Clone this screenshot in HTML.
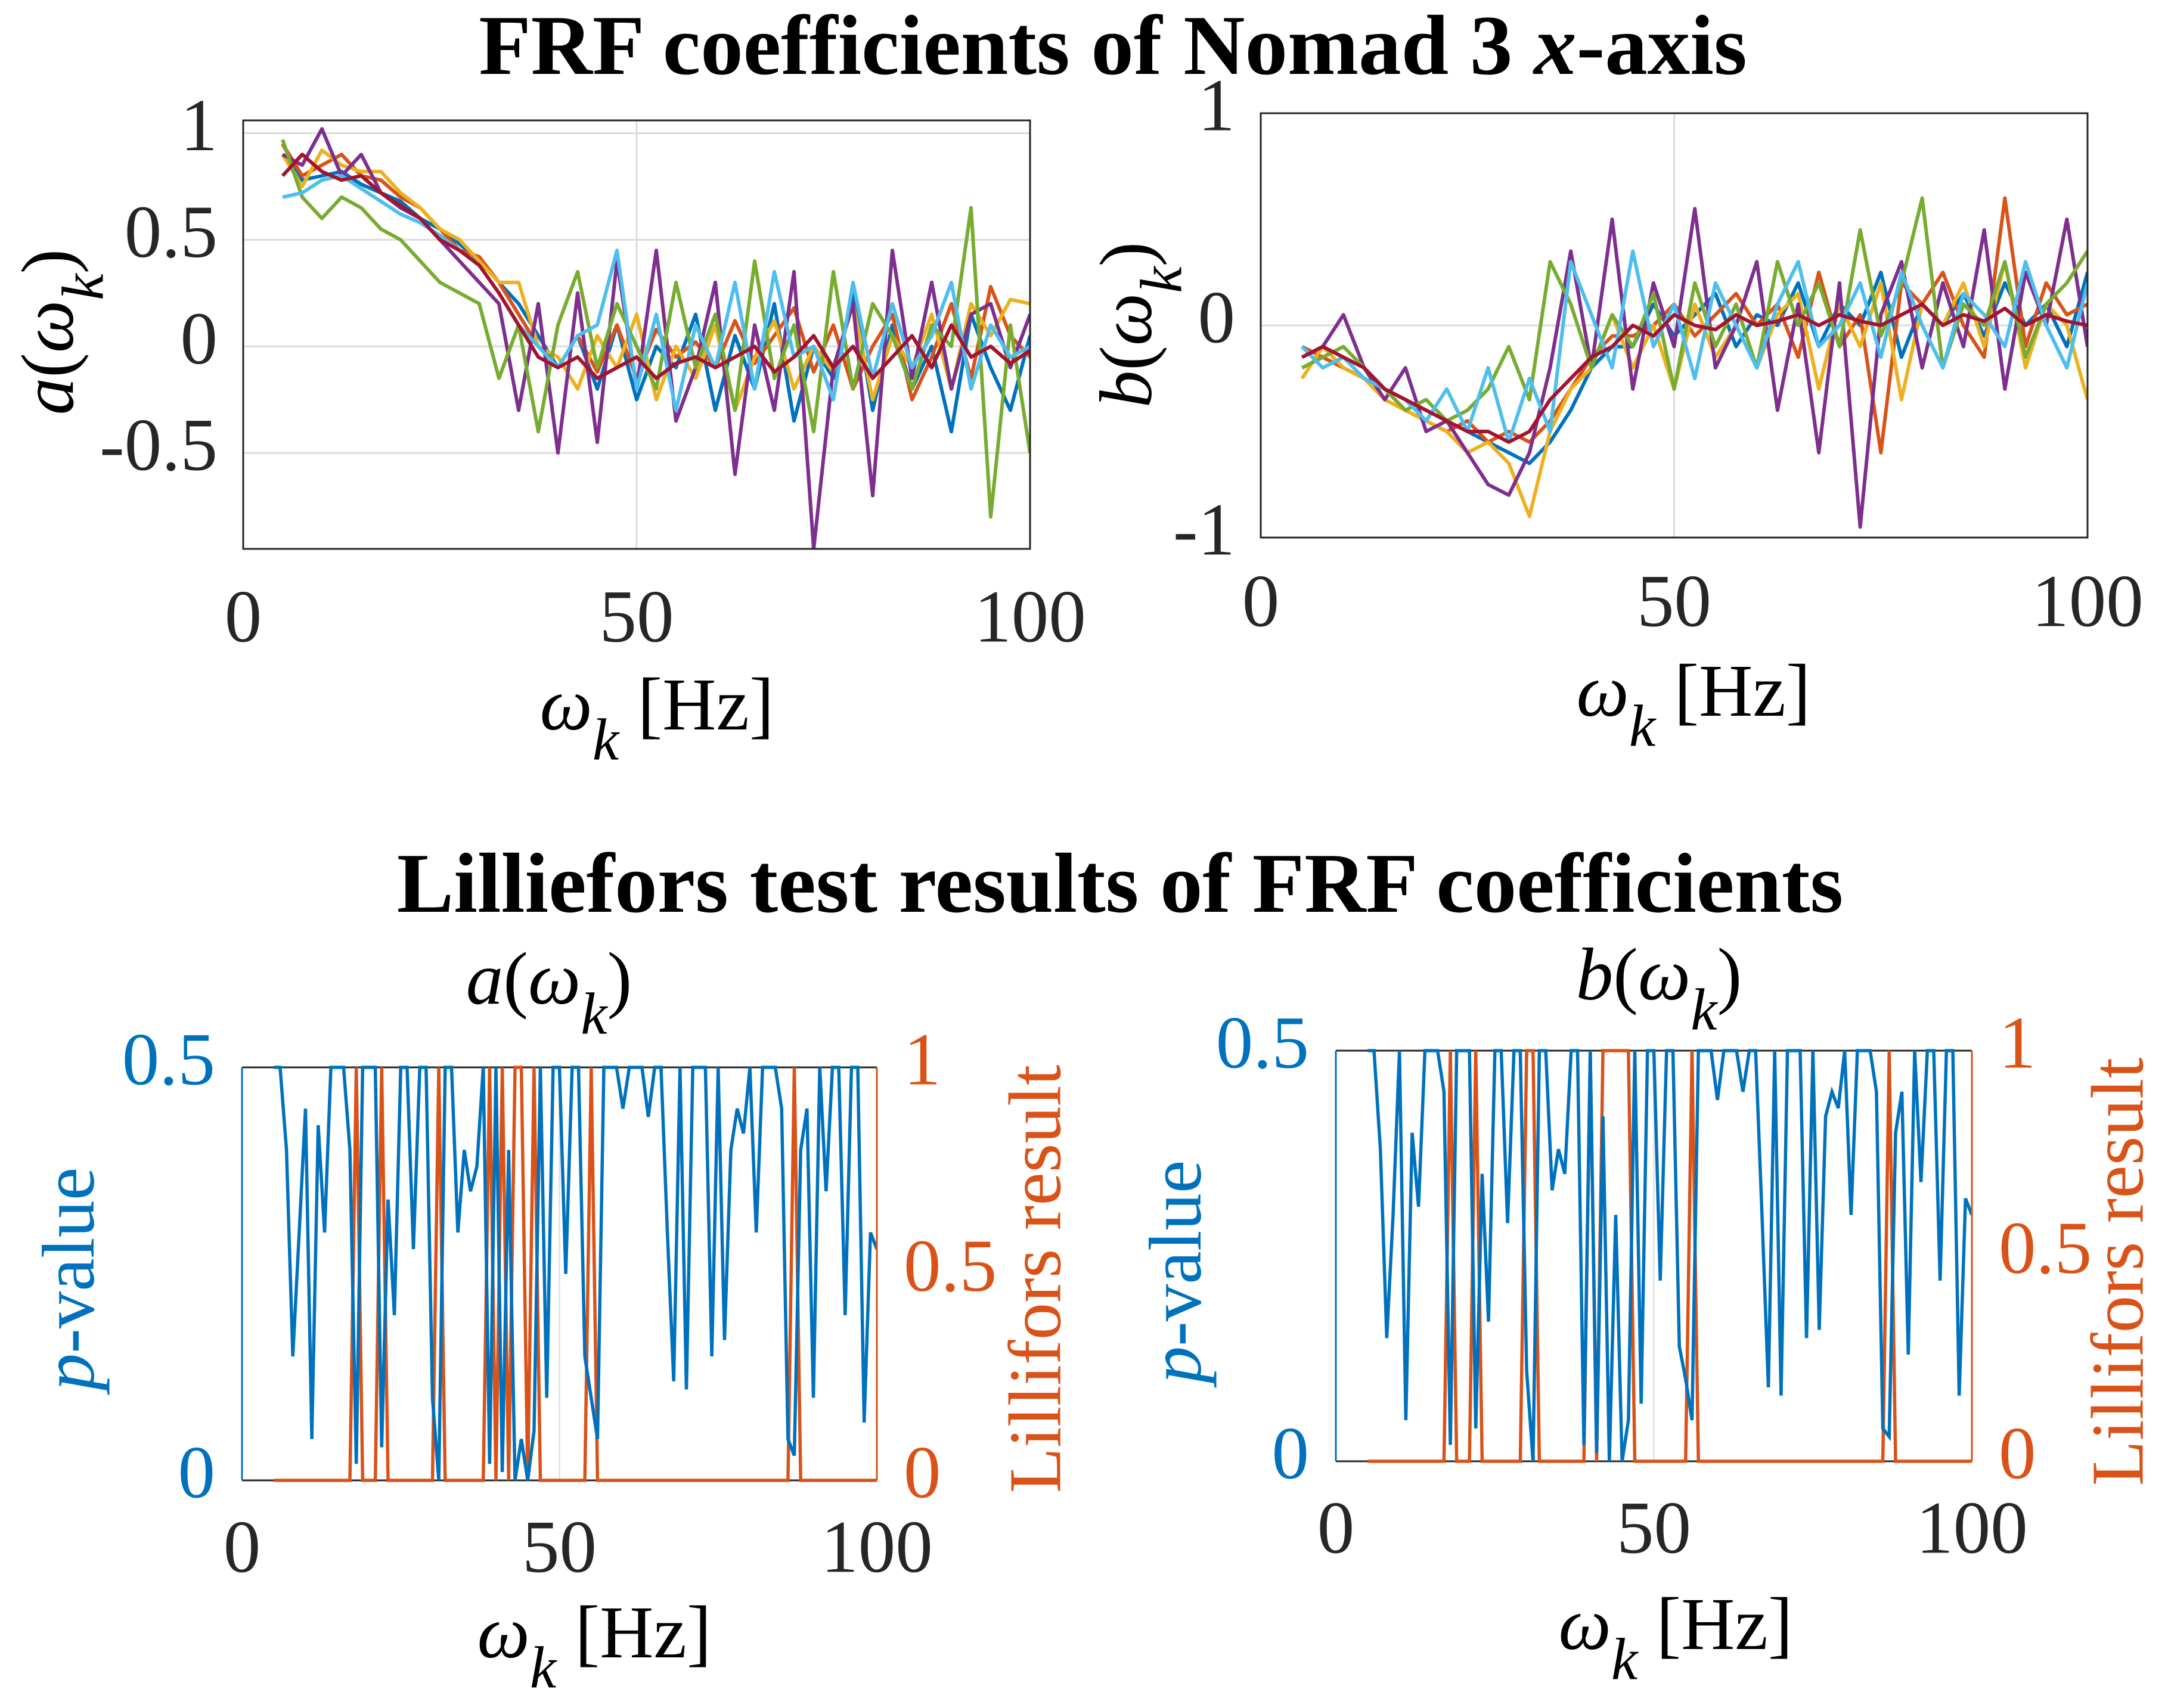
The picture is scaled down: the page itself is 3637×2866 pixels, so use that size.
<!DOCTYPE html>
<html><head><meta charset="utf-8">
<style>
html,body{margin:0;padding:0;background:#fff;}
svg{display:block;font-family:"Liberation Serif",serif;}
</style></head>
<body>
<svg id="fig" width="3637" height="2866" viewBox="0 0 3637 2866" xmlns="http://www.w3.org/2000/svg">
<rect width="3637" height="2866" fill="#fff"/>
<text x="1867" y="124" font-size="143" font-weight="bold" text-anchor="middle">FRF coefficients of Nomad 3 <tspan font-style="italic">x</tspan>-axis</text>
<text x="1879" y="1530" font-size="143" font-weight="bold" text-anchor="middle">Lilliefors test results of FRF coefficients</text>
</svg>
<script>
// ---- data ----
const freqCoarse = [5,7.5,10,12.5,15,17.5,20,22.5,25,27.5,30,32.5,35,37.5,40,42.5,45,47.5,50,52.5,55,57.5,60,62.5,65,67.5,70,72.5,75,77.5,80,82.5,85,87.5,90,92.5,95,97.5,100];
const seriesColors = ['#0072BD','#D95319','#EDB120','#7E2F8E','#77AC30','#4DBEEE','#A2142F'];
const aS1 = [0.95,0.78,0.8,0.82,0.76,0.72,0.68,0.6,0.55,0.48,0.4,0.3,0.2,0.05,-0.1,0.05,-0.2,0.1,-0.25,0.0,-0.1,0.15,-0.3,0.05,-0.2,0.2,-0.35,0.0,-0.15,0.25,-0.3,0.1,-0.2,0.0,-0.4,0.15,-0.1,-0.3,0.05];
const aS2 = [0.95,0.8,0.85,0.9,0.8,0.78,0.7,0.65,0.55,0.45,0.42,0.3,0.15,0.0,-0.1,0.05,-0.12,0.1,-0.15,0.08,-0.05,0.02,-0.1,0.12,-0.08,0.05,0.18,-0.12,0.1,-0.2,0.0,0.15,-0.25,-0.05,0.2,-0.15,0.28,0.05,-0.05];
const aS3 = [0.9,0.75,0.92,0.85,0.82,0.82,0.72,0.65,0.55,0.5,0.4,0.3,0.3,0.0,-0.05,-0.2,0.05,-0.1,0.15,-0.25,0.0,-0.15,0.1,-0.3,-0.05,0.12,-0.2,0.0,-0.12,0.2,-0.25,0.05,-0.1,0.15,-0.2,0.2,0.05,0.22,0.2];
const aS4 = [0.9,0.85,1.02,0.8,0.9,0.72,0.65,0.6,0.5,0.4,0.3,0.2,-0.3,0.2,-0.5,0.25,-0.45,0.4,-0.2,0.45,-0.35,-0.1,0.3,-0.6,0.1,-0.3,0.35,-0.95,-0.1,0.2,-0.7,0.45,-0.15,0.3,-0.2,0.15,0.2,-0.1,0.15];
const aS5 = [0.97,0.7,0.6,0.7,0.65,0.55,0.5,0.4,0.3,0.25,0.2,-0.15,0.1,-0.4,0.1,0.35,-0.1,0.2,0.0,-0.2,0.3,-0.1,0.15,-0.3,0.4,-0.15,0.1,-0.4,0.35,-0.2,0.2,0.05,-0.2,0.1,0.0,0.65,-0.8,0.1,-0.5];
const aS6 = [0.7,0.72,0.78,0.8,0.74,0.68,0.62,0.58,0.52,0.45,0.38,0.25,0.1,0.0,-0.1,0.05,0.1,0.45,-0.2,0.15,-0.3,0.1,-0.1,0.3,-0.2,0.35,-0.05,0.0,-0.25,0.3,-0.15,0.2,-0.1,0.05,0.3,-0.2,0.1,-0.05,0.0];
const aS7 = [0.8,0.9,0.82,0.78,0.8,0.72,0.66,0.6,0.5,0.45,0.38,0.25,0.1,-0.05,-0.1,-0.05,-0.15,-0.1,-0.05,-0.15,-0.08,-0.05,-0.1,-0.05,0.0,-0.12,-0.05,0.05,-0.1,0.0,-0.15,-0.05,0.05,-0.1,0.1,-0.05,0.0,-0.08,-0.02];
const bS1 = [-0.2,-0.15,-0.2,-0.25,-0.3,-0.35,-0.4,-0.45,-0.5,-0.55,-0.6,-0.65,-0.55,-0.4,-0.2,-0.1,-0.1,0.1,-0.05,0.05,0.15,-0.1,0.05,0.0,0.2,-0.1,0.1,0.0,0.25,-0.15,0.1,0.0,0.15,-0.05,0.2,0.0,0.1,-0.1,0.25];
const bS2 = [-0.1,-0.15,-0.2,-0.25,-0.3,-0.4,-0.45,-0.5,-0.45,-0.55,-0.5,-0.55,-0.45,-0.3,-0.15,-0.05,-0.05,0.0,0.1,-0.05,0.05,0.15,0.0,0.1,-0.15,0.25,-0.1,0.05,-0.6,0.2,0.1,0.25,0.0,-0.15,0.6,-0.1,0.2,0.05,0.1];
const bS3 = [-0.25,-0.1,-0.2,-0.25,-0.35,-0.4,-0.45,-0.5,-0.6,-0.55,-0.65,-0.9,-0.5,-0.3,-0.2,0.05,-0.2,0.0,-0.3,0.1,-0.15,0.0,-0.2,0.05,0.15,-0.3,0.1,-0.1,0.2,-0.35,0.1,0.0,0.2,-0.1,0.3,-0.2,0.1,0.0,-0.35];
const bS4 = [-0.15,-0.1,0.05,-0.2,-0.35,-0.2,-0.5,-0.45,-0.6,-0.75,-0.8,-0.6,-0.2,0.35,-0.2,0.5,-0.3,0.2,-0.1,0.55,-0.2,0.0,0.3,-0.4,0.1,-0.6,0.2,-0.95,0.05,0.3,-0.2,0.2,-0.1,0.45,-0.3,0.25,0.0,0.5,-0.1];
const bS5 = [-0.2,-0.15,-0.1,-0.2,-0.3,-0.4,-0.35,-0.45,-0.4,-0.3,-0.1,-0.35,0.3,0.1,-0.2,0.05,-0.1,0.15,-0.3,0.2,-0.1,0.1,-0.2,0.3,0.0,0.2,-0.1,0.45,-0.05,0.2,0.6,-0.2,0.1,0.0,0.3,-0.15,0.1,0.2,0.35];
const bS6 = [-0.1,-0.2,-0.15,-0.25,-0.3,-0.35,-0.45,-0.3,-0.5,-0.2,-0.55,-0.25,-0.5,0.3,0.05,-0.2,0.35,-0.1,0.1,-0.25,0.2,0.0,-0.2,0.1,0.3,-0.1,0.0,0.2,-0.15,0.25,0.0,-0.2,0.15,0.05,-0.1,0.3,0.0,-0.2,0.2];
const bS7 = [-0.15,-0.1,-0.15,-0.2,-0.3,-0.35,-0.4,-0.45,-0.5,-0.5,-0.55,-0.5,-0.35,-0.25,-0.15,-0.1,0.0,-0.05,0.05,0.0,-0.02,0.05,0.0,0.02,0.05,0.0,0.05,0.02,0.0,0.05,0.1,0.0,0.05,0.02,0.08,0.0,0.05,0.02,0.0];
const pFreq = [5,6,7,8,9,10,11,12,13,14,15,16,17,18,19,20,21,22,23,24,25,26,27,28,29,30,31,32,33,34,35,36,37,38,39,40,41,42,43,44,45,46,47,48,49,50,51,52,53,54,55,56,57,58,59,60,61,62,63,64,65,66,67,68,69,70,71,72,73,74,75,76,77,78,79,80,81,82,83,84,85,86,87,88,89,90,91,92,93,94,95,96,97,98,99,100];
const pA = [0.5,0.5,0.4,0.15,0.3,0.45,0.05,0.43,0.3,0.5,0.5,0.5,0.4,0.02,0.5,0.5,0.5,0.04,0.34,0.2,0.5,0.5,0.28,0.5,0.5,0.1,0.0,0.5,0.5,0.3,0.4,0.35,0.38,0.5,0.02,0.5,0.01,0.4,0.0,0.05,0.0,0.06,0.5,0.1,0.5,0.5,0.25,0.5,0.5,0.15,0.1,0.05,0.5,0.5,0.5,0.45,0.5,0.5,0.5,0.44,0.5,0.5,0.3,0.12,0.5,0.11,0.5,0.5,0.5,0.15,0.5,0.17,0.4,0.45,0.42,0.5,0.3,0.5,0.5,0.5,0.45,0.05,0.03,0.4,0.45,0.1,0.5,0.35,0.5,0.5,0.2,0.5,0.5,0.07,0.3,0.28];
const pB = [0.5,0.5,0.38,0.15,0.3,0.5,0.05,0.4,0.31,0.5,0.5,0.5,0.45,0.02,0.5,0.5,0.5,0.04,0.35,0.17,0.5,0.5,0.29,0.5,0.5,0.11,0.0,0.5,0.5,0.33,0.38,0.35,0.5,0.5,0.02,0.5,0.01,0.42,0.0,0.3,0.0,0.05,0.5,0.07,0.5,0.5,0.22,0.5,0.5,0.14,0.1,0.05,0.5,0.5,0.5,0.44,0.5,0.5,0.5,0.45,0.5,0.5,0.3,0.09,0.5,0.08,0.5,0.5,0.5,0.15,0.5,0.16,0.42,0.45,0.43,0.5,0.3,0.5,0.5,0.5,0.45,0.04,0.03,0.4,0.45,0.13,0.5,0.34,0.5,0.5,0.22,0.5,0.5,0.08,0.32,0.3];
const hOnesA = [18,22,31,39,41,43,44,46,55,87];
const hOnesB = [18,22,30,31,40,42,43,44,45,46,56,87];
const xTicks = [0,50,100];
const aTicks = [-0.5,0,0.5,1];
const bTicks = [-1,0,1];
const pTicks = [0,0.5];
const hTicks = [0,0.5,1];

const NS='http://www.w3.org/2000/svg';
const svg=document.getElementById('fig');
const FS=125;
function mk(tag,attrs,parent){const e=document.createElementNS(NS,tag);for(const k in attrs)e.setAttribute(k,attrs[k]);(parent||svg).appendChild(e);return e;}
function scale(d0,d1,r0,r1){return v=>r0+(v-d0)/(d1-d0)*(r1-r0);}
function txt(x,y,s,size,anchor,fill,name){const t=mk('text',{x:x,y:y,'font-size':size,'text-anchor':anchor,fill:fill,'dominant-baseline':'middle'});t.textContent=s;


return t;}
function omegaLabel(cx,cy,size,name,prefix,rot){
  const g=mk('g',{transform:rot?`translate(${cx},${cy}) rotate(-90)`:`translate(${cx},${cy})`});
  
  
  const t=mk('text',{x:0,y:0,'font-size':size,'text-anchor':'middle','dominant-baseline':'middle'},g);
  if(prefix){const a=mk('tspan',{'font-style':'italic'},t);a.textContent=prefix;const b=mk('tspan',{},t);b.textContent='(';}
  const w=mk('tspan',{'font-style':'italic'},t);w.textContent='ω';
  const k=mk('tspan',{'font-style':'italic',dy:size*0.45,'font-size':size*0.8},t);k.textContent='k';
  if(prefix){const c=mk('tspan',{dy:-size*0.45},t);c.textContent=')';}
  else{const c=mk('tspan',{dy:-size*0.45},t);c.textContent=' [Hz]';}
  return g;
}

function frfPanel(L,R,T,B,y0,y1,yt,series,xs,grid,tickX,labY,name){
  const X=scale(0,100,L,R),Y=scale(y0,y1,B,T);
  const g=mk('g',{});
  
  
  yt.forEach(v=>{const l=mk('line',{x1:L,x2:R,y1:Y(v),y2:Y(v),stroke:'#dcdcdc','stroke-width':3},g);
    
    });
  const gl=mk('line',{x1:X(50),x2:X(50),y1:T,y2:B,stroke:'#dcdcdc','stroke-width':3},g);
  
  
  const cp='clip'+name;const cl=mk('clipPath',{id:cp},g);mk('rect',{x:L,y:T,width:R-L,height:B-T},cl);
  series.forEach((s,i)=>{
    const d=s.map((v,j)=>(j?'L':'M')+X(xs[j]).toFixed(1)+','+Y(v).toFixed(1)).join('');
    const p=mk('path',{d:d,fill:'none',stroke:seriesColors[i],'stroke-width':6,'stroke-linejoin':'round','clip-path':`url(#${cp})`},g);
    
    
  });
  const box=mk('rect',{x:L,y:T,width:R-L,height:B-T,fill:'none',stroke:'#262626','stroke-width':3},g);
  
  
  xTicks.forEach(v=>txt(X(v),tickX,String(v),FS,'middle','#262626','x-tick-label'));
  yt.forEach(v=>txt(labY,Y(v),String(v),FS,'end','#262626','y-tick-label'));
  return {X,Y};
}

frfPanel(408,1728,202,921,-0.95,1.06,aTicks,[aS1,aS2,aS3,aS4,aS5,aS6,aS7],freqCoarse,true,1048,365,'a-coeff-plot');
frfPanel(2115,3502,190,902,-1,1,bTicks,[bS1,bS2,bS3,bS4,bS5,bS6,bS7],freqCoarse,true,1022,2072,'b-coeff-plot');
omegaLabel(1102,1195,FS,'x-axis-title-a','',false);
omegaLabel(2841,1172,FS,'x-axis-title-b','',false);
omegaLabel(93,557,FS,'y-axis-title-a','a',true);
omegaLabel(1902,545,FS,'y-axis-title-b','b',true);

function lillPanel(L,R,T,B,p,hOnes,tickX,name){
  const X=scale(0,100,L,R),Yp=scale(0,0.5,B,T),Yh=scale(0,1,B,T);
  const g=mk('g',{});
  
  
  const gl=mk('line',{x1:X(50),x2:X(50),y1:T,y2:B,stroke:'#e6e6e6','stroke-width':3},g);
  
  
  const cp='clip'+name;const cl=mk('clipPath',{id:cp},g);mk('rect',{x:L,y:T-3,width:R-L,height:B-T+6},cl);
  mk('line',{x1:L,x2:R,y1:T,y2:T,stroke:'#262626','stroke-width':3},g);
  mk('line',{x1:L,x2:R,y1:B,y2:B,stroke:'#262626','stroke-width':3},g);
  const hd=pFreq.map((f,j)=>(j?'L':'M')+X(f).toFixed(1)+','+Yh(hOnes.includes(f)?1:0).toFixed(1)).join('');
  const hp=mk('path',{d:hd,fill:'none',stroke:'#D95319','stroke-width':5.5,'clip-path':`url(#${cp})`},g);
  
  
  const pd=pFreq.map((f,j)=>(j?'L':'M')+X(f).toFixed(1)+','+Yp(Math.min(p[j],0.5)).toFixed(1)).join('');
  const pp=mk('path',{d:pd,fill:'none',stroke:'#0072BD','stroke-width':5.5,'clip-path':`url(#${cp})`},g);
  
  
  const la=mk('line',{x1:L,x2:L,y1:T,y2:B,stroke:'#0072BD','stroke-width':3},g);
  
  
  const ra=mk('line',{x1:R,x2:R,y1:T,y2:B,stroke:'#D95319','stroke-width':3},g);
  
  
  xTicks.forEach(v=>txt(X(v),tickX,String(v),FS,'middle','#262626','x-tick-label'));
  pTicks.forEach(v=>txt(L-45,Yp(v),String(v),FS,'end','#0072BD','left-tick-label'));
  hTicks.forEach(v=>txt(R+45,Yh(v),String(v),FS,'start','#D95319','right-tick-label'));
}
lillPanel(406,1471,1791,2484,pA,hOnesA,2609,'lilliefors-a-plot');
lillPanel(2241,3308,1763,2452,pB,hOnesB,2577,'lilliefors-b-plot');
omegaLabel(921,1655,FS,'subtitle-a','a',false);
omegaLabel(2783,1648,FS,'subtitle-b','b',false);
omegaLabel(997,2752,FS,'x-axis-title-la','',false);
omegaLabel(2811,2738,FS,'x-axis-title-lb','',false);
function pLabel(cx,cy,name){const g=mk('g',{transform:`translate(${cx},${cy}) rotate(-90)`});
  
  
  const t=mk('text',{x:0,y:0,'font-size':FS,'text-anchor':'middle','dominant-baseline':'middle',fill:'#0072BD'},g);
  const a=mk('tspan',{'font-style':'italic'},t);a.textContent='p';const b=mk('tspan',{},t);b.textContent='-value';}
function lLabel(cx,cy,name){const g=mk('g',{transform:`translate(${cx},${cy}) rotate(-90)`});
  
  
  const t=mk('text',{x:0,y:0,'font-size':FS,'text-anchor':'middle','dominant-baseline':'middle',fill:'#D95319'},g);t.textContent='Lillifors result';}
pLabel(128,2146,'p-value-label-a');
pLabel(1985,2134,'p-value-label-b');
lLabel(1750,2146,'lilliefors-label-a');
lLabel(3566,2134,'lilliefors-label-b');
</script>
</body></html>
